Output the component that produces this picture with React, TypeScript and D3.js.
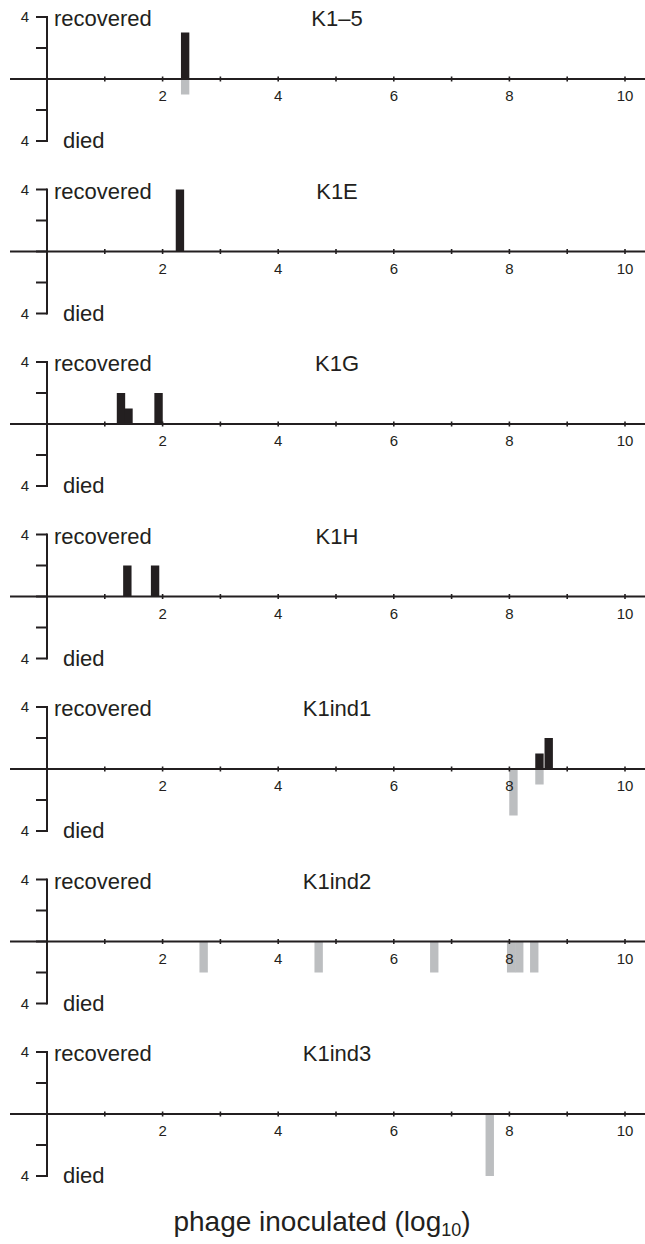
import React, { useEffect, useRef } from "react";
import * as d3 from "d3";

// panel titles, top to bottom
const panelNames = ["K1–5", "K1E", "K1G", "K1H", "K1ind1", "K1ind2", "K1ind3"];

// one entry per bar: panel index, dose (log10), mice recovered, mice died
const barPanel = [0, 1, 2, 2, 2, 3, 3, 4, 4, 4, 5, 5, 5, 5, 5, 5, 6];
const barDose = [2.39, 2.3, 1.28, 1.41, 1.93, 1.39, 1.87, 8.07, 8.52, 8.68, 2.71, 4.7, 6.7, 8.03, 8.17, 8.43, 7.66];
const barRecovered = [3, 4, 2, 1, 2, 2, 2, 0, 1, 2, 0, 0, 0, 0, 0, 0, 0];
const barDied = [1, 0, 0, 0, 0, 0, 0, 3, 1, 0, 2, 2, 2, 2, 2, 2, 4];

const xTicks = [1, 2, 3, 4, 5, 6, 7, 8, 9, 10];
const xTickLabels = [2, 4, 6, 8, 10];
const yTicks = [-4, -2, 0, 2, 4];

const App = () => {
  const ref = useRef(null);

  useEffect(() => {
    const width = 645;
    const height = 1244;
    const font = "'Liberation Sans', Arial, Helvetica, sans-serif";
    const ink = "#231f20";

    const svg = d3.select(ref.current);
    svg.selectAll("*").remove();
    svg.attr("width", width).attr("height", height);

    const x = d3.scaleLinear().domain([0, 10]).range([47, 625]);
    const barW = x(0.145) - x(0);
    const panelY = d3.scaleLinear().domain([0, 6]).range([79, 1114]);

    const bars = barDose.map((d, i) => ({
      panel: barPanel[i],
      dose: d,
      rec: barRecovered[i],
      died: barDied[i],
    }));

    panelNames.forEach((name, p) => {
      const y0 = panelY(p);
      const y = d3.scaleLinear().domain([-4, 4]).range([y0 + 62, y0 - 62]);
      const g = svg.append("g");

      const pb = bars.filter((b) => b.panel === p);

      // Bars: recovered up (black), died down (grey)
      g.selectAll("rect.rec")
        .data(pb.filter((b) => b.rec > 0))
        .enter()
        .append("rect")
        .attr("x", (d) => x(d.dose) - barW / 2)
        .attr("y", (d) => y(d.rec))
        .attr("width", barW)
        .attr("height", (d) => y(0) - y(d.rec))
        .attr("fill", ink);

      g.selectAll("rect.died")
        .data(pb.filter((b) => b.died > 0))
        .enter()
        .append("rect")
        .attr("x", (d) => x(d.dose) - barW / 2)
        .attr("y", y(0))
        .attr("width", barW)
        .attr("height", (d) => y(-d.died) - y(0))
        .attr("fill", "#bcbec0");

      // X axis line
      g.append("line")
        .attr("x1", x(-0.64))
        .attr("x2", width)
        .attr("y1", y0)
        .attr("y2", y0)
        .attr("stroke", ink)
        .attr("stroke-width", 2);

      g.selectAll("line.xt")
        .data(xTicks)
        .enter()
        .append("line")
        .attr("x1", (d) => x(d))
        .attr("x2", (d) => x(d))
        .attr("y1", y0 - 2.5)
        .attr("y2", y0 + 2.5)
        .attr("stroke", ink)
        .attr("stroke-width", 1.6);

      g.selectAll("text.xl")
        .data(xTickLabels)
        .enter()
        .append("text")
        .attr("x", (d) => x(d))
        .attr("y", y0 + 22)
        .attr("text-anchor", "middle")
        .attr("font-family", font)
        .attr("font-size", 15)
        .attr("fill", ink)
        .text((d) => d);

      // Y axis
      g.append("line")
        .attr("x1", x(0))
        .attr("x2", x(0))
        .attr("y1", y(4) - 1)
        .attr("y2", y(-4) + 1)
        .attr("stroke", ink)
        .attr("stroke-width", 2);

      g.selectAll("line.yt")
        .data(yTicks)
        .enter()
        .append("line")
        .attr("x1", x(0) - 11)
        .attr("x2", x(0))
        .attr("y1", (d) => y(d))
        .attr("y2", (d) => y(d))
        .attr("stroke", ink)
        .attr("stroke-width", 2);

      g.selectAll("text.yl")
        .data([4, -4])
        .enter()
        .append("text")
        .attr("x", 29)
        .attr("y", (d) => y(d) + 5)
        .attr("text-anchor", "end")
        .attr("font-family", font)
        .attr("font-size", 15)
        .attr("fill", ink)
        .text("4");

      g.append("text")
        .attr("x", 54)
        .attr("y", y(4) + 9)
        .attr("font-family", font)
        .attr("font-size", 22)
        .attr("fill", ink)
        .text("recovered");

      g.append("text")
        .attr("x", 63)
        .attr("y", y(-4) + 7)
        .attr("font-family", font)
        .attr("font-size", 22)
        .attr("fill", ink)
        .text("died");

      g.append("text")
        .attr("x", 337)
        .attr("y", y(4) + 9)
        .attr("text-anchor", "middle")
        .attr("font-family", font)
        .attr("font-size", 22)
        .attr("fill", ink)
        .text(name);
    });

    // Axis title
    const t = svg
      .append("text")
      .attr("x", 322)
      .attr("y", 1231)
      .attr("text-anchor", "middle")
      .attr("font-family", font)
      .attr("font-size", 28)
      .attr("fill", ink);
    t.append("tspan").text("phage inoculated (log");
    t.append("tspan").attr("font-size", 18).attr("dy", 5).text("10");
    t.append("tspan").attr("dy", -5).text(")");
  }, []);

  return (
    <div style={{ position: "absolute", left: 0, top: 0, background: "#fff" }}>
      <svg ref={ref} style={{ display: "block" }} />
    </div>
  );
};

export default App;
